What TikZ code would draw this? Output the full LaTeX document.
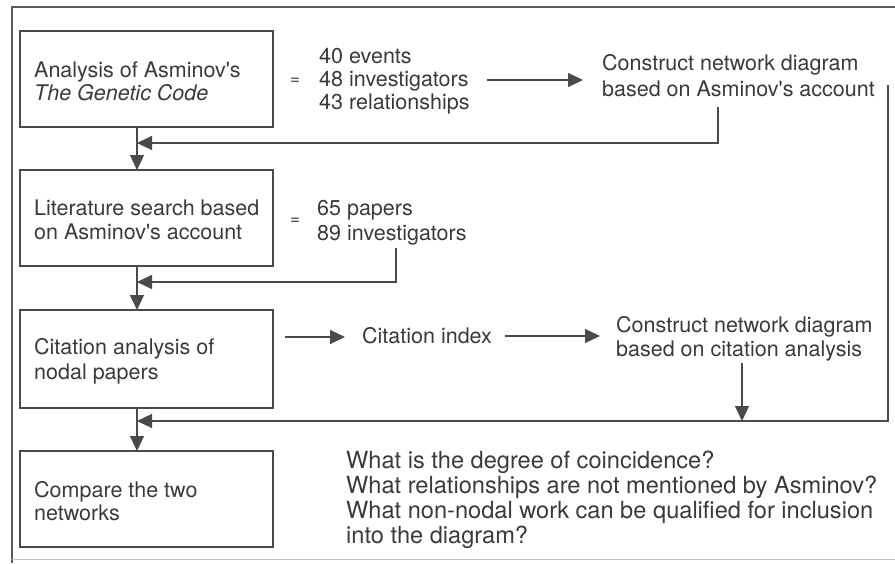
\documentclass[tikz,border=0pt]{standalone}
\usepackage{fontspec}
\setmainfont{TeX Gyre Heros}
\usetikzlibrary{arrows.meta}
\definecolor{ink}{HTML}{3A3A3A}
\definecolor{wire}{HTML}{4A4A4A}
\definecolor{rim}{HTML}{5A5A5A}
\begin{document}
\begin{tikzpicture}[x=1pt,y=-1pt,
  box/.style={draw=wire, line width=1.2pt, minimum width=253pt,
    minimum height=96pt, inner sep=0pt, outer sep=0pt, anchor=north west},
  txt/.style={text=ink, font=\fontsize{21.5}{25}\selectfont,
    anchor=base west, inner sep=0pt},
  qtxt/.style={txt, font=\fontsize{23.6}{25}\selectfont},
  eqsign/.style={text=ink, font=\fontsize{17}{20}\selectfont, inner sep=0pt},
  wirepath/.style={draw=wire, line width=1.2pt},
  flow/.style={wirepath, -{Triangle[length=15pt,width=14pt]}}]
% canvas and outer frame
\useasboundingbox (0,0) rectangle (895,563);
\draw[rim, line width=1.4pt] (895,7) -- (12,7) -- (12,563);
\draw[black!25, line width=0.8pt] (12,559) -- (895,559);

% process boxes
\node[box] (b1) at (20,31) {};
\node[box] (b2) at (20,170) {};
\node[box, minimum height=98pt] (b3) at (20,310) {};
\node[box] (b4) at (20,451) {};

% box texts
\node[txt] (b1l1) at (34,77) {Analysis of Asminov\textquotesingle s};
\node[txt] (b1l2) at (34,100) {\itshape The Genetic Code};
\node[txt] (b2l1) at (34,215) {Literature search based};
\node[txt] (b2l2) at (34,239) {on Asminov\textquotesingle s account};
\node[txt] (b3l1) at (34,354) {Citation analysis of};
\node[txt] (b3l2) at (34,379) {nodal papers};
\node[txt] (b4l1) at (34,497) {Compare the two};
\node[txt] (b4l2) at (34,520) {networks};

% results of the first two steps
\node[eqsign] (eq1) at (295,81.5) {=};
\node[txt] (r1a) at (319,63) {40 events};
\node[txt] (r1b) at (319,86) {48 investigators};
\node[txt] (r1c) at (319,109) {43 relationships};
\node[eqsign] (eq2) at (295,221) {=};
\node[txt] (r2a) at (317,215) {65 papers};
\node[txt] (r2b) at (317,240) {89 investigators};

% network diagrams and citation index
\node[txt] (n1a) at (602,70) {Construct network diagram};
\node[txt] (n1b) at (602,96) {based on Asminov\textquotesingle s account};
\node[txt] (ci) at (362,343) {Citation index};
\node[txt] (n2a) at (616,332) {Construct network diagram};
\node[txt] (n2b) at (616,356) {based on citation analysis};

% questions for the comparison
\node[qtxt] (q1) at (346,468) {What is the degree of coincidence?};
\node[qtxt] (q2) at (346,493) {What relationships are not mentioned by Asminov?};
\node[qtxt] (q3) at (346,518) {What non-nodal work can be qualified for inclusion};
\node[qtxt] (q4) at (346,543) {into the diagram?};

% main flow down the left column
\draw[flow] ([xshift=-9.5pt]b1.south) -- ([xshift=-9.5pt]b2.north);
\draw[flow] ([xshift=-9.5pt]b2.south) -- ([xshift=-9.5pt]b3.north);
\draw[flow] ([xshift=-9.5pt]b3.south) -- ([xshift=-9.5pt]b4.north);

% horizontal arrows
\draw[flow] (487,80) coordinate (a1s) -- (583,80) coordinate (a1e);
\draw[flow] (285,337) coordinate (a2s) -- (345,337) coordinate (a2e);
\draw[flow] (505,336) coordinate (a3s) -- (600,336) coordinate (a3e);

% feedback lines into the main flow
\coordinate (f1) at (718,107);
\coordinate (j1) at (137,143);
\draw[flow] (f1) |- (j1);
\coordinate (f2) at (396,248);
\coordinate (j2) at (137,282);
\draw[flow] (f2) |- (j2);
\coordinate (f3) at (888,85);
\coordinate (j3) at (137,421);
\draw[flow] (f3) |- (j3);
\coordinate (d2) at (742,363);
\draw[flow] (d2) -- (d2 |- j3);
\end{tikzpicture}
\end{document}
